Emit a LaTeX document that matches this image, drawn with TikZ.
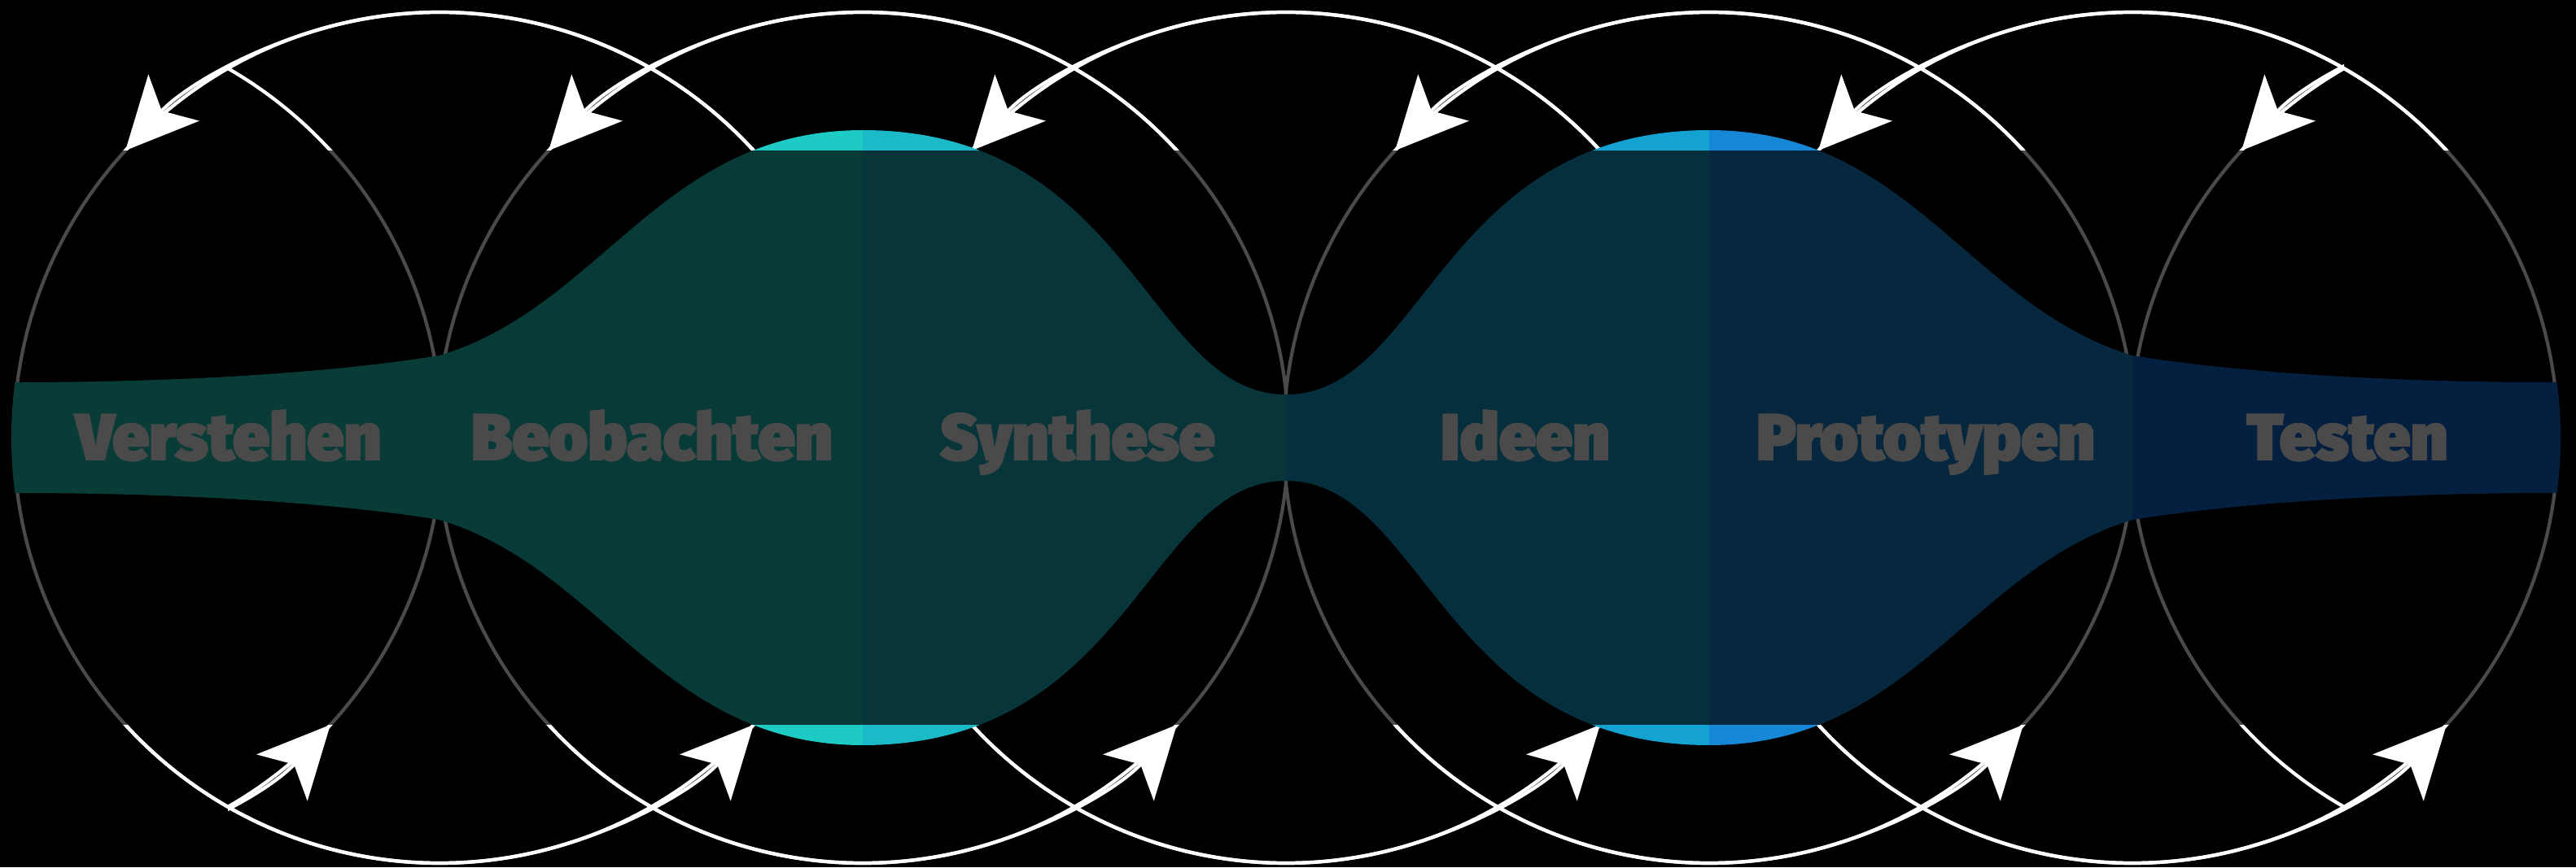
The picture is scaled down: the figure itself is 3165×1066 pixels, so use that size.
\documentclass[tikz,border=0pt]{standalone}
\usepackage{fontspec}
\usepackage{graphicx}
\usetikzlibrary{arrows.meta}
\IfFontExistsTF{Fira Sans Black}{\newfontfamily\labfont{Fira Sans Black}[FakeBold=2.5]}{%
  \IfFontExistsTF{Fira Sans Heavy}{\newfontfamily\labfont{Fira Sans Heavy}[FakeBold=2.5]}{%
    \newfontfamily\labfont{Fira Sans}[UprightFont=* Bold, FakeBold=4]}}
\definecolor{cV}{HTML}{22D1BE}
\definecolor{cB}{HTML}{1ECBC4}
\definecolor{cS}{HTML}{1BBAC8}
\definecolor{cI}{HTML}{13A2D2}
\definecolor{cP}{HTML}{1587D6}
\definecolor{cT}{HTML}{0F6BDB}
\newdimen\fitw
\newcommand\fitlab[2]{\setbox0=\hbox{\labfont\fontsize{22.7pt}{24pt}\selectfont #1}\fitw=\wd0\relax\pgfmathsetmacro\fitsc{#2*0.284528/\fitw}\scalebox{\fitsc}[1]{\box0}}
\tikzset{
  ring/.style={draw=white, line width=1.2pt},
  arr/.style={ring, -{Stealth[length=25pt, width=24pt, inset=6.2pt]}},
  lbl/.style={text=white, inner sep=0pt, anchor=base},
  veil/.style={fill=black, opacity=0.71},
}
\begin{document}
\begin{tikzpicture}[x=0.01cm, y=0.01cm]
\useasboundingbox (0,0) rectangle (3165,1066);
\clip (0,0) rectangle (3165,1066);
\fill[black] (0,0) rectangle (3165,1066);
% circle centres
\foreach \k/\xx in {0/20,1/540,2/1060,3/1580,4/2100,5/2620,6/3140}
  \coordinate (c\k) at (\xx,528);
% full circles 1..5
\foreach \k in {1,...,5}{
  \draw[ring] (c\k) circle[radius=523];
  \draw[arr] (c\k) ++(42.45:523) arc[start angle=42.45, end angle=137.55, radius=523];
  \draw[arr] (c\k) ++(222.45:523) arc[start angle=222.45, end angle=317.55, radius=523];
}
% partial circle at the left
\begin{scope}
  \clip (280,0) rectangle (3165,1066);
  \draw[ring] (c0) circle[radius=523];
  \draw[arr] (c0) ++(222.45:523) arc[start angle=222.45, end angle=317.55, radius=523];
\end{scope}
% partial circle at the right
\begin{scope}
  \clip (0,0) rectangle (2880,1066);
  \draw[ring] (c6) circle[radius=523];
  \draw[arr] (c6) ++(42.45:523) arc[start angle=42.45, end angle=137.55, radius=523];
\end{scope}
% band
\begin{scope}
  \clip (18.4,596) .. controls (250,596) and (430,611) .. (540,629)
    .. controls (740,689) and (813,906) .. (1060,906)
    .. controls (1390,906) and (1410,581) .. (1580,581)
    .. controls (1750,581) and (1770,906) .. (2100,906)
    .. controls (2347,906) and (2420,689) .. (2620,629)
    .. controls (2730,611) and (2910,596) .. (3141.6,596)
    arc[start angle=7.43, end angle=-7.43, radius=526]
    .. controls (2910,460) and (2730,445) .. (2620,427)
    .. controls (2420,367) and (2347,150) .. (2100,150)
    .. controls (1770,150) and (1750,475) .. (1580,475)
    .. controls (1410,475) and (1390,150) .. (1060,150)
    .. controls (813,150) and (740,367) .. (540,427)
    .. controls (430,445) and (250,460) .. (18.4,460)
    arc[start angle=187.43, end angle=172.57, radius=526] -- cycle;
  \fill[cV] (0,0) rectangle (540,1066);
  \fill[cB] (540,0) rectangle (1060,1066);
  \fill[cS] (1060,0) rectangle (1580,1066);
  \fill[cI] (1580,0) rectangle (2100,1066);
  \fill[cP] (2100,0) rectangle (2620,1066);
  \fill[cT] (2620,0) rectangle (3165,1066);
\end{scope}
% labels
\node[lbl] (t1) at (281,501) {\fitlab{Verstehen}{375}};
\node[lbl] (t2) at (801,501) {\fitlab{Beobachten}{444}};
\node[lbl] (t3) at (1324,501) {\fitlab{Synthese}{337}};
\node[lbl] (t4) at (1874,501) {\fitlab{Ideen}{208}};
\node[lbl] (t5) at (2366,501) {\fitlab{Prototypen}{416}};
\node[lbl] (t6) at (2884,501) {\fitlab{Testen}{247}};
% darkening veil over the middle strip
\fill[veil] (0,175) rectangle (3165,881);
\end{tikzpicture}
\end{document}
